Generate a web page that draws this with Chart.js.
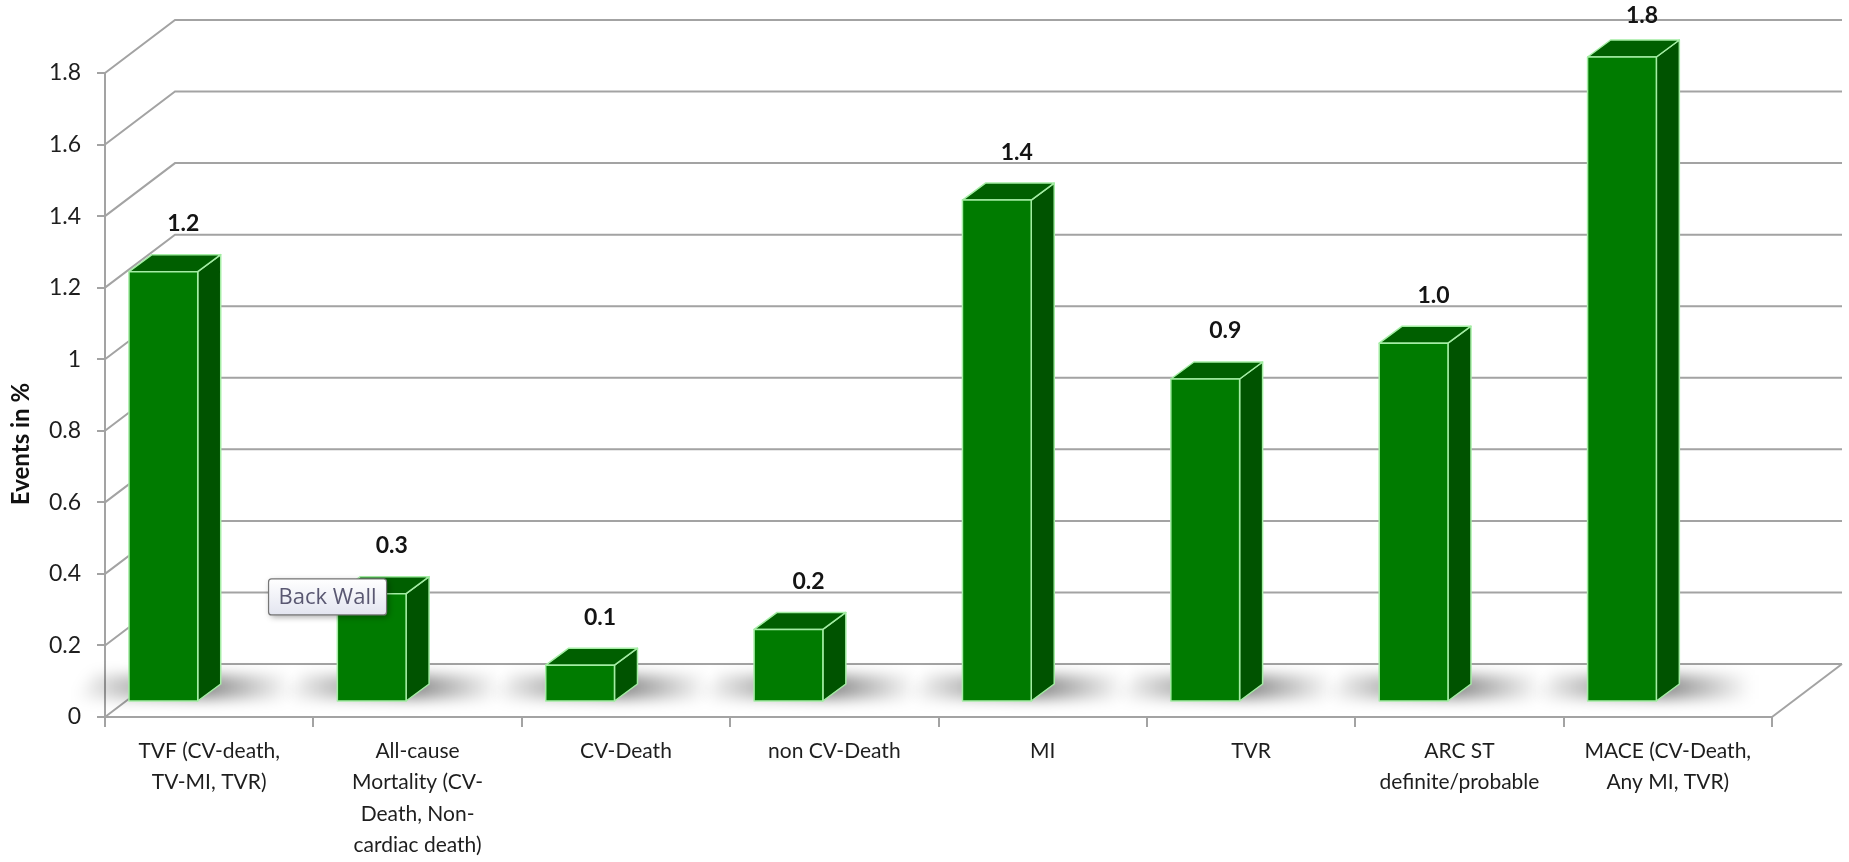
<!DOCTYPE html>
<html>
<head>
<meta charset="utf-8">
<script src="https://cdn.jsdelivr.net/npm/chart.js@4.4.1/dist/chart.umd.min.js"></script>
<style>
  html, body { margin: 0; padding: 0; background: #fff; }
  #wrap { width: 1849px; height: 862px; position: relative; }
</style>
</head>
<body>
<div id="wrap"><canvas id="chart"></canvas></div>
<script>
const categories = [
  ['TVF (CV-death,', 'TV-MI, TVR)'],
  ['All-cause', 'Mortality (CV-', 'Death, Non-', 'cardiac death)'],
  'CV-Death',
  'non CV-Death',
  'MI',
  'TVR',
  ['ARC ST', 'definite/probable'],
  ['MACE (CV-Death,', 'Any MI, TVR)']
];
const eventRates = [1.2, 0.3, 0.1, 0.2, 1.4, 0.9, 1.0, 1.8];
const rateLabels = ['1.2', '0.3', '0.1', '0.2', '1.4', '0.9', '1.0', '1.8'];
const yTicks = [0, 0.2, 0.4, 0.6, 0.8, 1, 1.2, 1.4, 1.6, 1.8];
const yTickLabels = ['0', '0.2', '0.4', '0.6', '0.8', '1', '1.2', '1.4', '1.6', '1.8'];

const FONT = 'Lato';
const TEXT = '#1e1e1e';
const GRID = '#a3a3a3';
const WALL = { dx: 70, dy: -53 };                 // depth of side wall / back wall / floor
const BAR = { dx: 23, dy: -17, lift: -16, shift: -0.22, width: 0.33 };
const FACE = { front: '#007b00', top: '#005f00', side: '#005300', edge: '#a4eda4' };

// screen box of column i, worked out from the category and value scales
const column = (chart, i) => {
    const { x, y } = chart.scales;
    const catW = x.getPixelForValue(1) - x.getPixelForValue(0);
    const w = catW * BAR.width;
    const cx = x.getPixelForValue(i) + catW * BAR.shift;
    return {
        cx, w,
        x0: cx - w / 2,
        x1: cx + w / 2,
        top: y.getPixelForValue(eventRates[i]) + BAR.lift,
        base: y.getPixelForValue(0) + BAR.lift
    };
};

const poly = (ctx, pts) => {
    ctx.beginPath();
    ctx.moveTo(pts[0][0], pts[0][1]);
    pts.slice(1).forEach(p => ctx.lineTo(p[0], p[1]));
    ctx.closePath();
};

const wallsPlugin = {
    id: 'walls',
    beforeDatasetsDraw(chart) {
        const { ctx, chartArea: a, scales: { y } } = chart;
        ctx.save();
        ctx.strokeStyle = GRID;
        ctx.lineWidth = 2;
        yTicks.forEach(v => {
            const py = y.getPixelForValue(v);
            ctx.beginPath();
            ctx.moveTo(a.left, py);
            ctx.lineTo(a.left + WALL.dx, py + WALL.dy);
            ctx.lineTo(a.right + WALL.dx, py + WALL.dy);
            ctx.stroke();
        });
        const y0 = y.getPixelForValue(0);
        ctx.beginPath();
        ctx.moveTo(a.right, y0);
        ctx.lineTo(a.right + WALL.dx, y0 + WALL.dy);
        ctx.stroke();

        // soft shadows on the floor, darkest right behind each column
        ctx.filter = 'blur(7px)';
        eventRates.forEach((v, i) => {
            const b = column(chart, i);
            const l = b.x0 - 55, r = b.x1 + 95;
            const g = ctx.createLinearGradient(l, 0, r, 0);
            g.addColorStop(0, 'rgba(0,0,0,0)');
            g.addColorStop((b.x0 - l) / (r - l), 'rgba(0,0,0,0.26)');
            g.addColorStop((b.x1 + 8 - l) / (r - l), 'rgba(0,0,0,0.46)');
            g.addColorStop(1, 'rgba(0,0,0,0)');
            ctx.fillStyle = g;
            poly(ctx, [[l, b.base - 2], [r, b.base - 2], [r + 10, b.base - 26], [l + 20, b.base - 26]]);
            ctx.fill();
        });
        ctx.restore();
    },
    afterDatasetsDraw(chart) {
        const { ctx } = chart;
        ctx.save();
        ctx.lineWidth = 1.5;
        ctx.strokeStyle = FACE.edge;
        ctx.lineJoin = 'round';
        eventRates.forEach((v, i) => {
            const b = column(chart, i);
            const { x0, x1, top, base } = b;
            poly(ctx, [[x1, top], [x1 + BAR.dx, top + BAR.dy], [x1 + BAR.dx, base + BAR.dy], [x1, base]]);
            ctx.fillStyle = FACE.side; ctx.fill(); ctx.stroke();
            poly(ctx, [[x0, top], [x1, top], [x1 + BAR.dx, top + BAR.dy], [x0 + BAR.dx, top + BAR.dy]]);
            ctx.fillStyle = FACE.top; ctx.fill(); ctx.stroke();
            poly(ctx, [[x0, top], [x1, top], [x1, base], [x0, base]]);
            ctx.fillStyle = FACE.front; ctx.fill(); ctx.stroke();

            ctx.fillStyle = '#141414';
            ctx.font = `bold 23px ${FONT}`;
            ctx.textAlign = 'center';
            ctx.textBaseline = 'middle';
            ctx.fillText(rateLabels[i], b.cx + 20, Math.max(top - 48, 16));
        });
        ctx.restore();
    },
    afterDraw(chart) {
        const { ctx, scales: { x, y } } = chart;
        ctx.save();
        // axis title
        ctx.translate(21, 444);
        ctx.rotate(-Math.PI / 2);
        ctx.font = `bold 24px ${FONT}`;
        ctx.fillStyle = '#111';
        ctx.textAlign = 'center';
        ctx.textBaseline = 'middle';
        ctx.fillText('Events in %', 0, 0);
        ctx.restore();

        // hover tip left over the back wall
        const bx = x.getPixelForValue(1) - 149, by = y.getPixelForValue(0.4) + 5, bw = 118, bh = 36;
        ctx.save();
        ctx.shadowColor = 'rgba(0,0,0,0.35)';
        ctx.shadowBlur = 6;
        ctx.shadowOffsetX = 2;
        ctx.shadowOffsetY = 2;
        const g = ctx.createLinearGradient(0, by, 0, by + bh);
        g.addColorStop(0, '#ffffff');
        g.addColorStop(1, '#e3e5f0');
        ctx.fillStyle = g;
        ctx.beginPath();
        ctx.roundRect(bx, by, bw, bh, 3);
        ctx.fill();
        ctx.shadowColor = 'transparent';
        ctx.strokeStyle = '#767676';
        ctx.lineWidth = 1.2;
        ctx.stroke();
        ctx.fillStyle = '#5a5872';
        ctx.font = `22px "Open Sans"`;
        ctx.textAlign = 'center';
        ctx.textBaseline = 'middle';
        ctx.fillText('Back Wall', bx + bw / 2, by + bh / 2 + 1);
        ctx.restore();
    }
};

new Chart(document.getElementById('chart'), {
    type: 'bar',
    data: {
        labels: categories,
        datasets: [{
            label: 'Events in %',
            data: eventRates,
            backgroundColor: 'rgba(0,0,0,0)',
            borderWidth: 0
        }]
    },
    options: {
        responsive: true,
        maintainAspectRatio: false,
        animation: false,
        layout: { padding: { top: 73, right: 77, left: 0, bottom: 0 } },
        plugins: { legend: { display: false }, tooltip: { enabled: false } },
        scales: {
            x: {
                offset: true,
                grid: { offset: true, drawOnChartArea: false, tickLength: 10, color: GRID, lineWidth: 2 },
                border: { color: GRID, width: 2 },
                ticks: {
                    autoSkip: false, maxRotation: 0, padding: 8, color: TEXT,
                    font: { family: FONT, size: 21, lineHeight: 1.5 }
                },
                afterFit: s => { s.height = 145; }
            },
            y: {
                min: 0, max: 1.8,
                afterBuildTicks: s => { s.ticks = yTicks.map(v => ({ value: v })); },
                grid: { drawOnChartArea: false, tickLength: 8, color: GRID, lineWidth: 2 },
                border: { color: GRID, width: 2 },
                ticks: {
                    padding: 16, color: TEXT,
                    font: { family: FONT, size: 23 },
                    callback: (v, i) => yTickLabels[i]
                },
                afterFit: s => { s.width = 105; }
            }
        }
    },
    plugins: [wallsPlugin]
});
</script>
</body>
</html>
